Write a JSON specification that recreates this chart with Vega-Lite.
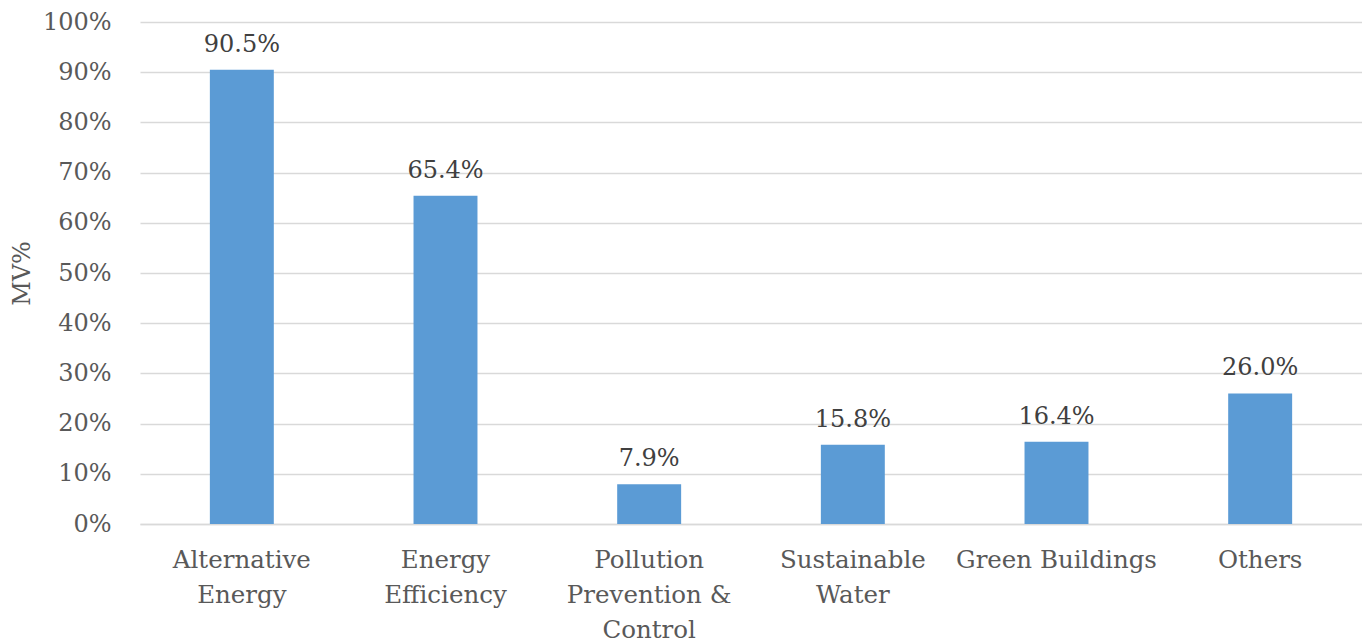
{
  "$schema": "https://vega.github.io/schema/vega-lite/v6.json",
  "width": 1222,
  "height": 502,
  "autosize": "none",
  "padding": {"left": 140, "top": 22, "right": 0, "bottom": 119},
  "background": "white",
  "config": {"view": {"stroke": null}, "font": "DejaVu Serif"},
  "data": {
    "values": [
      {"category": "Alternative Energy", "value": 0.905},
      {"category": "Energy Efficiency", "value": 0.654},
      {"category": "Pollution Prevention & Control", "value": 0.079},
      {"category": "Sustainable Water", "value": 0.158},
      {"category": "Green Buildings", "value": 0.164},
      {"category": "Others", "value": 0.26}
    ]
  },
  "encoding": {
    "x": {
      "field": "category",
      "type": "nominal",
      "sort": null,
      "scale": {"paddingInner": 0.686, "paddingOuter": 0.343},
      "axis": {
        "title": null,
        "labelAngle": 0,
        "labelFont": "DejaVu Serif",
        "labelFontSize": 24.5,
        "labelColor": "#595959",
        "labelPadding": 24,
        "labelBaseline": "top",
        "labelLineHeight": 35,
        "labelLimit": 0,
        "ticks": false,
        "domainColor": "#d9d9d9",
        "domainWidth": 1.5,
        "labelExpr": "datum.value == 'Alternative Energy' ? ['Alternative', 'Energy'] : datum.value == 'Energy Efficiency' ? ['Energy', 'Efficiency'] : datum.value == 'Pollution Prevention & Control' ? ['Pollution', 'Prevention &', 'Control'] : datum.value == 'Sustainable Water' ? ['Sustainable', 'Water'] : datum.value"
      }
    },
    "y": {
      "field": "value",
      "type": "quantitative",
      "scale": {"domain": [0, 1], "nice": false},
      "axis": {
        "title": "MV%",
        "titleFont": "DejaVu Serif",
        "titleFontSize": 24,
        "titleFontWeight": "normal",
        "titleColor": "#595959",
        "titlePadding": 8,
        "format": ".0%",
        "values": [0, 0.1, 0.2, 0.3, 0.4, 0.5, 0.6, 0.7, 0.8, 0.9, 1.0],
        "labelFont": "DejaVu Serif",
        "labelFontSize": 24,
        "labelColor": "#595959",
        "labelPadding": 29,
        "ticks": false,
        "domain": false,
        "grid": true,
        "gridColor": "#d9d9d9",
        "gridWidth": 1.5
      }
    }
  },
  "layer": [
    {"mark": {"type": "bar", "color": "#5b9bd5"}},
    {
      "mark": {"type": "text", "baseline": "alphabetic", "dy": -18, "font": "DejaVu Serif", "fontSize": 24, "color": "#404040"},
      "encoding": {"text": {"field": "value", "type": "quantitative", "format": ".1%"}}
    }
  ]
}
